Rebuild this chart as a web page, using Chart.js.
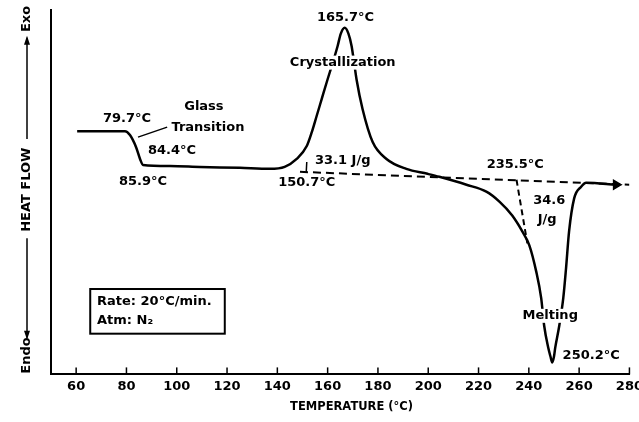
<!DOCTYPE html>
<html>
<head>
<meta charset="utf-8">
<script src="https://cdn.jsdelivr.net/npm/chart.js@4.4.0/dist/chart.umd.min.js"></script>
<style>
  html, body { margin: 0; padding: 0; background: #fff; overflow: hidden; }
  /* a little wider than the window so the 280 label is clipped like the original */
  #wrap { width: 647px; height: 422px; }
</style>
</head>
<body>
<div id="wrap"><canvas id="dsc"></canvas></div>
<script>
// DSC trace: temperature (°C) vs heat flow (arbitrary units, exo up)
const temps = [60.4, 69.5, 79.4, 81.4, 83.8, 85.4, 86.6, 97.3, 109.2, 125.1, 137.0, 142.9,
  147.7, 151.7, 153.7, 155.6, 157.6, 159.6, 162.4, 164.0, 165.2, 166.8, 168.3, 169.5, 170.3,
  171.5, 173.9, 177.9, 183.4, 191.3, 199.7, 204.4, 215.2, 223.1, 228.3, 233.4, 237.4, 240.2,
  242.9, 244.9, 246.1, 247.7, 248.6, 249.3, 250.0, 250.5, 252.1, 253.7, 254.8, 256.0, 258.0,
  260.8, 262.8, 274.7];
const heatFlow = [245, 245, 245, 241, 229, 217, 211, 210, 209, 208, 207, 209,
  217, 230, 244, 260, 277, 294, 317, 331, 343, 349, 343, 331, 318,
  297, 267, 234, 217, 207, 202, 199, 191, 184, 174, 160, 144, 130,
  104, 77, 49, 27, 18, 12, 18, 27, 49, 77, 107, 144, 177,
  189, 193, 191];

// extrapolated baseline under the peaks
const baseTemps = [149, 280];
const baseFlow = [204, 191];
// construction line from 235.5 °C down to the melting curve
const dropTemps = [235.1, 239.4];
const dropFlow = [196, 132];

const tickValues = [60, 80, 100, 120, 140, 160, 180, 200, 220, 240, 260, 280];

// annotations
const noteTexts = ['79.7°C', 'Glass', 'Transition', '84.4°C', '85.9°C', '165.7°C', 'Crystallization',
  '33.1 J/g', '150.7°C', '235.5°C', '34.6', 'J/g', 'Melting', '250.2°C'];
const noteTemps = [80.2, 110.8, 112.4, 98.1, 86.6, 167.1, 166.0, 166.0, 151.7, 234.6, 248.1, 247.3, 248.5, 264.8];
const noteFlows = [258, 270, 249, 225, 194, 359, 314, 215, 193, 211, 175, 156, 59, 19];
const noteWhiteBg = ['Crystallization', 'Melting'];

const FONT = 'bold 13px "DejaVu Sans"';

const notesPlugin = {
  id: 'notes',
  afterDatasetsDraw(chart) {
    const { ctx, chartArea, scales: { x, y } } = chart;
    const px = v => x.getPixelForValue(v);
    const py = v => y.getPixelForValue(v);
    ctx.save();

    // inward tick marks on the temperature axis
    ctx.strokeStyle = '#000';
    ctx.lineWidth = 1.5;
    tickValues.forEach(v => {
      ctx.beginPath();
      ctx.moveTo(px(v), chartArea.bottom);
      ctx.lineTo(px(v), chartArea.bottom - 7);
      ctx.stroke();
    });

    // glass transition leader and 150.7 onset marker
    ctx.lineWidth = 1.5;
    ctx.beginPath();
    ctx.moveTo(px(84.6), py(239));
    ctx.lineTo(px(96.2), py(249));
    ctx.moveTo(px(151.7), py(214));
    ctx.lineTo(px(151.5), py(204));
    ctx.stroke();

    // labels
    ctx.font = FONT;
    ctx.textAlign = 'center';
    ctx.textBaseline = 'middle';
    noteTexts.forEach((t, i) => {
      const cx = px(noteTemps[i]);
      const cy = py(noteFlows[i]);
      if (noteWhiteBg.includes(t)) {
        const w = ctx.measureText(t).width;
        ctx.fillStyle = '#fff';
        ctx.fillRect(cx - w / 2 - 2, cy - 7, w + 4, 14);
      }
      ctx.fillStyle = '#000';
      ctx.fillText(t, cx, cy);
    });

    // conditions box
    const bx0 = px(65.6), bx1 = px(119.1), by0 = py(86), by1 = py(41);
    ctx.lineWidth = 2;
    ctx.strokeRect(bx0, by0, bx1 - bx0, by1 - by0);
    ctx.textAlign = 'left';
    ctx.fillText('Rate: 20°C/min.', px(68.3), py(73));
    ctx.fillText('Atm: N₂', px(68.3), py(54));

    // vertical heat flow label with arrows
    const lx = chartArea.left - 24;
    const rotText = (t, v) => {
      ctx.save();
      ctx.translate(lx, py(v));
      ctx.rotate(-Math.PI / 2);
      ctx.textAlign = 'center';
      ctx.fillText(t, 0, 0);
      ctx.restore();
    };
    ctx.font = FONT;
    rotText('Exo', 358);
    rotText('HEAT FLOW', 186);
    rotText('Endo', 19);
    ctx.lineWidth = 1.5;
    const arrow = (from, to) => {
      const dir = Math.sign(py(to) - py(from));
      ctx.beginPath();
      ctx.moveTo(lx, py(from));
      ctx.lineTo(lx, py(to));
      ctx.stroke();
      ctx.beginPath();
      ctx.moveTo(lx, py(to) + dir * 2);
      ctx.lineTo(lx - 3, py(to) - dir * 7);
      ctx.lineTo(lx + 3, py(to) - dir * 7);
      ctx.closePath();
      ctx.fill();
    };
    arrow(237, 339);
    arrow(137, 37);

    // axis title
    ctx.font = 'bold 11.5px "DejaVu Sans"';
    ctx.textAlign = 'center';
    ctx.fillText('TEMPERATURE (°C)', px(169.5), chartArea.bottom + 33);
    ctx.restore();
  }
};

new Chart(document.getElementById('dsc'), {
  type: 'line',
  data: {
    datasets: [{
      label: 'DSC',
      data: temps.map((t, i) => ({ x: t, y: heatFlow[i] })),
      borderColor: '#000',
      backgroundColor: '#000',
      borderWidth: 2.5,
      cubicInterpolationMode: 'monotone',
      pointStyle: 'triangle',
      pointRotation: 90,
      pointRadius: ctx => ctx.dataIndex === temps.length - 1 ? 4 : 0
    }, {
      label: 'baseline',
      data: baseTemps.map((t, i) => ({ x: t, y: baseFlow[i] })),
      borderColor: '#000',
      borderWidth: 2,
      borderDash: [8, 5],
      pointRadius: 0
    }, {
      label: 'drop',
      data: dropTemps.map((t, i) => ({ x: t, y: dropFlow[i] })),
      borderColor: '#000',
      borderWidth: 2,
      borderDash: [6, 4],
      pointRadius: 0
    }]
  },
  options: {
    responsive: true,
    maintainAspectRatio: false,
    animation: false,
    layout: { padding: { left: 51, top: 10, right: 0, bottom: 24 } },
    plugins: { legend: { display: false }, tooltip: { enabled: false } },
    scales: {
      x: {
        type: 'linear',
        min: 50,
        max: 280,
        afterBuildTicks: s => { s.ticks = tickValues.map(v => ({ value: v })); },
        grid: { display: true, drawOnChartArea: false, drawTicks: false, color: '#000' },
        border: { display: true, color: '#000', width: 2 },
        ticks: {
          color: '#000',
          font: { family: 'DejaVu Sans', size: 13, weight: 'bold' },
          padding: 4,
          maxRotation: 0,
          autoSkip: false
        }
      },
      y: {
        min: 0,
        max: 367,
        grid: { display: false, drawTicks: false },
        border: { display: true, color: '#000', width: 2 },
        ticks: { display: false }
      }
    }
  },
  plugins: [notesPlugin]
});
</script>
</body>
</html>
